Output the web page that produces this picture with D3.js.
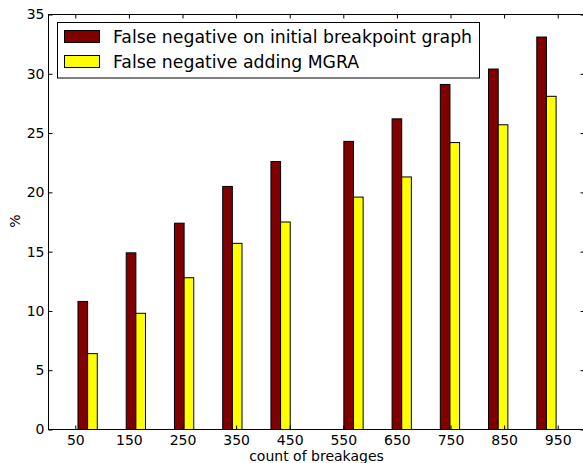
<!DOCTYPE html>
<html>
<head>
<meta charset="utf-8">
<script src="https://cdn.jsdelivr.net/npm/d3@7"></script>
<style>
  html, body { margin: 0; padding: 0; background: #fff; }
  svg { display: block; }
  text { font-family: "DejaVu Sans", sans-serif; fill: #000; }
</style>
</head>
<body>
<svg id="chart" width="583" height="463"></svg>
<script>
// ---- data ----
const tickLabels = [50, 150, 250, 350, 450, 550, 650, 750, 850, 950];
const barStarts = [55, 145, 235, 325, 415, 551, 641, 731, 821, 911]; // x-values (left edge) of each pair
const seriesNames = ["False negative on initial breakpoint graph", "False negative adding MGRA"];
const initialGraph = [10.8, 14.9, 17.4, 20.5, 22.6, 24.3, 26.2, 29.1, 30.4, 33.1];
const addingMGRA = [6.4, 9.8, 12.8, 15.7, 17.5, 19.6, 21.3, 24.2, 25.7, 28.1];
const yTicks = [0, 5, 10, 15, 20, 25, 30, 35];
const colors = ["#800000", "#ffff00"];

// ---- layout ----
const svg = d3.select("#chart");
const pLeft = 48.5, pRight = 584.5, pTop = 14.5, pBottom = 429.5;
const barW = 18;
const x = d3.scaleLinear().domain([0, 1000]).range([pLeft, pRight]);
const y = d3.scaleLinear().domain([0, 35]).range([pBottom, pTop]);

// bars
const series = [initialGraph, addingMGRA];
series.forEach((vals, si) => {
  svg.append("g").selectAll("rect").data(vals).join("rect")
    .attr("x", (d, i) => x(barStarts[i] + si * barW))
    .attr("width", x(barW) - x(0))
    .attr("y", d => y(d))
    .attr("height", d => y(0) - y(d))
    .attr("fill", colors[si])
    .attr("stroke", "#000")
    .attr("stroke-width", 1);
});

// axes
const fs = "14px";
const ax = svg.append("g").attr("transform", `translate(0,${pBottom})`)
  .call(d3.axisBottom(x).tickValues(tickLabels).tickSize(-4).tickPadding(6).tickFormat(d3.format("d")));
const axT = svg.append("g").attr("transform", `translate(0,${pTop})`)
  .call(d3.axisTop(x).tickValues(tickLabels).tickSize(-4).tickFormat(""));
const ay = svg.append("g").attr("transform", `translate(${pLeft},0)`)
  .call(d3.axisLeft(y).tickValues(yTicks).tickSize(-4).tickPadding(4).tickFormat(d3.format("d")));
const ayR = svg.append("g").attr("transform", `translate(${pRight},0)`)
  .call(d3.axisRight(y).tickValues(yTicks).tickSize(-4).tickFormat(""));
[ax, axT, ay, ayR].forEach(g => {
  g.select(".domain").remove();
  g.selectAll("line").attr("stroke", "#000");
  g.selectAll("text").style("font-size", fs).attr("font-family", "DejaVu Sans");
});

// frame
svg.append("rect").attr("x", pLeft).attr("y", pTop)
  .attr("width", pRight - pLeft).attr("height", pBottom - pTop)
  .attr("fill", "none").attr("stroke", "#000").attr("stroke-width", 1);

// axis labels
svg.append("text").attr("x", (pLeft + pRight) / 2).attr("y", 461)
  .attr("text-anchor", "middle").style("font-size", fs).text("count of breakages");
svg.append("text").attr("transform", "translate(20,221) rotate(-90)")
  .attr("text-anchor", "middle").style("font-size", fs).text("%");

// legend
const lg = svg.append("g");
lg.append("rect").attr("x", 57.5).attr("y", 22.5).attr("width", 422).attr("height", 55.5)
  .attr("fill", "#fff").attr("stroke", "#000").attr("stroke-width", 1);
seriesNames.forEach((name, i) => {
  const yy = 30.5 + i * 25;
  lg.append("rect").attr("x", 64.5).attr("y", yy).attr("width", 35).attr("height", 12)
    .attr("fill", colors[i]).attr("stroke", "#000").attr("stroke-width", 1);
  lg.append("text").attr("x", 113).attr("y", yy + 12.3).style("font-size", "17.3px").text(name);
});
</script>
</body>
</html>
